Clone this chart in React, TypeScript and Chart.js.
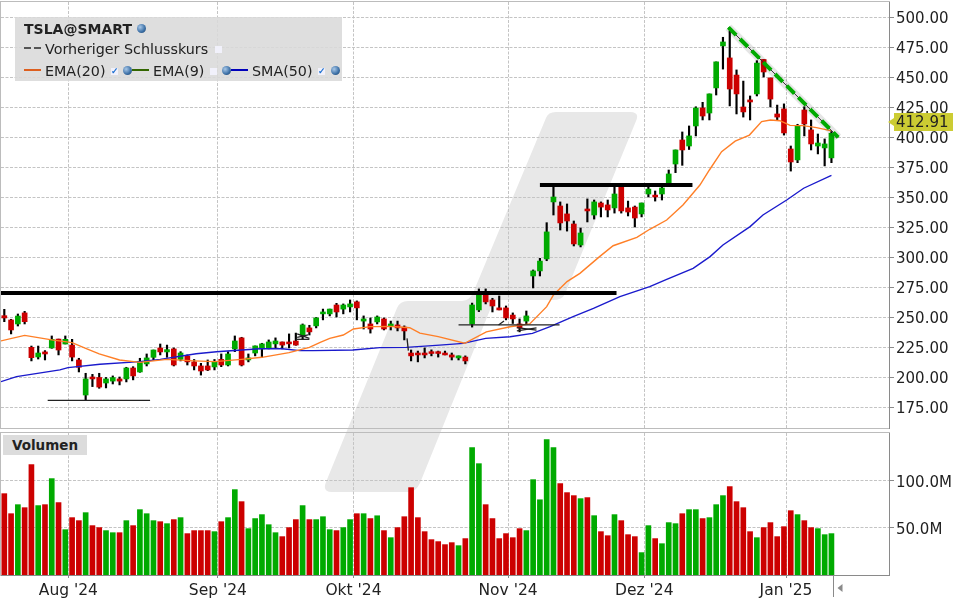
import { useEffect, useRef } from "react";
import { Chart, registerables } from "chart.js";

Chart.register(...registerables);

const FONT = '"DejaVu Sans", sans-serif';
const UP = "#00aa00";
const DOWN = "#cc0000";

const opens = [
  251.5, 247.9, 244.6, 253.8, 225.1, 217.1, 221.3, 224.6, 232.0, 227.9,
  227.0, 214.6, 185.4, 200.4, 200.0, 195.4, 197.0, 198.8, 198.8, 207.9,
  204.6, 211.3, 216.8, 224.6, 221.3, 223.8, 215.1, 218.0, 213.0, 209.6,
  209.6, 208.8, 215.1, 210.4, 223.8, 233.0, 214.6, 220.4, 223.8, 224.6,
  228.0, 229.6, 229.6, 230.4, 235.4, 241.3, 243.0, 253.0, 253.0, 260.4,
  257.0, 258.8, 263.0, 247.0, 244.6, 246.3, 248.8, 243.0, 243.8, 242.0,
  220.4, 220.4, 220.4, 221.5, 221.5, 220.4, 218.8, 216.3, 217.0, 244.6,
  256.3, 269.6, 264.6, 258.0, 258.0, 252.0, 244.6, 247.0, 284.6, 288.8,
  298.8, 346.3, 342.9, 336.3, 327.9, 310.4, 340.4, 335.4, 345.4, 343.8,
  341.3, 359.6, 341.3, 342.0, 336.3, 352.9, 352.0, 352.9, 361.3, 377.9,
  397.9, 392.9, 409.6, 424.6, 420.4, 441.3, 476.3, 466.3, 452.0, 425.4,
  431.3, 436.3, 465.0, 449.6, 419.6, 423.8, 390.4, 381.3, 422.9, 406.3,
  392.9, 391.3, 383.0,
];
const closes = [
  249.6, 239.6, 251.2, 246.5, 216.5, 220.4, 219.6, 231.8, 222.9, 231.8,
  217.0, 208.5, 198.8, 198.8, 192.0, 198.8, 199.9, 197.0, 207.9, 201.3,
  213.5, 216.3, 222.9, 221.3, 223.2, 210.4, 220.4, 213.0, 209.6, 205.4,
  206.3, 213.5, 210.4, 219.6, 230.4, 210.4, 216.3, 226.3, 228.0, 229.6,
  230.4, 227.0, 228.0, 227.0, 243.8, 238.0, 249.6, 254.6, 257.0, 254.6,
  260.4, 261.3, 258.0, 248.8, 240.4, 250.4, 240.4, 244.6, 241.3, 238.8,
  218.0, 218.8, 218.8, 220.0, 220.0, 218.8, 217.0, 218.0, 213.8, 260.4,
  269.6, 263.0, 259.6, 256.3, 249.6, 248.8, 241.3, 251.3, 288.8, 297.0,
  321.3, 350.4, 328.8, 330.4, 311.3, 320.4, 338.8, 346.3, 342.0, 339.6,
  352.9, 338.8, 337.9, 332.9, 345.4, 357.0, 350.4, 357.9, 369.6, 389.6,
  389.6, 401.3, 424.6, 417.9, 436.3, 463.0, 479.6, 440.4, 436.3, 421.3,
  429.6, 462.0, 454.6, 432.0, 417.0, 403.8, 379.6, 409.6, 411.3, 394.6,
  395.4, 394.6, 403.5,
];
const highs = [
  256.8, 248.5, 252.9, 255.1, 226.2, 226.2, 222.4, 234.6, 232.0, 234.6,
  231.8, 216.0, 203.5, 202.6, 203.5, 200.0, 201.3, 200.4, 208.5, 209.0,
  216.0, 219.6, 222.9, 227.9, 227.0, 224.6, 221.5, 218.8, 215.0, 211.8,
  214.6, 215.0, 219.6, 221.5, 234.6, 233.5, 219.6, 226.3, 228.5, 231.3,
  233.0, 229.6, 236.3, 237.0, 244.6, 243.5, 250.0, 257.0, 257.0, 261.8,
  261.3, 264.6, 263.8, 251.3, 249.6, 251.3, 249.6, 247.0, 247.0, 243.0,
  222.9, 222.0, 224.6, 223.0, 222.0, 222.0, 220.4, 218.0, 218.0, 262.0,
  273.8, 273.8, 266.0, 267.9, 259.6, 253.8, 248.8, 255.4, 289.6, 299.3,
  329.0, 358.5, 346.3, 344.6, 330.4, 324.6, 348.8, 347.9, 346.3, 347.9,
  360.4, 360.0, 347.0, 342.9, 345.4, 360.4, 355.4, 360.4, 372.9, 389.6,
  404.6, 409.6, 425.6, 429.3, 436.3, 463.0, 483.5, 489.0, 456.3, 447.0,
  434.6, 464.0, 465.0, 449.6, 427.0, 428.0, 392.9, 411.0, 425.6, 414.6,
  402.9, 398.8, 405.0,
];
const lows = [
  246.5, 236.3, 242.9, 244.6, 213.8, 215.4, 214.6, 224.3, 218.8, 227.9,
  213.8, 204.6, 181.3, 192.4, 191.0, 191.3, 194.6, 193.8, 196.3, 198.0,
  204.3, 209.6, 214.6, 218.8, 216.8, 209.6, 213.8, 210.4, 206.3, 202.0,
  205.7, 206.3, 209.0, 209.6, 221.5, 209.6, 213.0, 218.0, 216.8, 223.8,
  224.6, 223.8, 224.6, 226.8, 231.8, 235.4, 241.3, 248.0, 251.3, 250.4,
  253.0, 254.6, 248.0, 240.4, 237.0, 244.6, 239.6, 239.6, 238.8, 231.3,
  213.8, 213.0, 216.3, 218.0, 217.0, 218.8, 214.6, 214.6, 211.3, 242.0,
  254.9, 261.3, 254.6, 256.3, 248.0, 245.0, 238.0, 244.6, 274.6, 284.6,
  297.3, 335.4, 322.9, 322.0, 309.6, 308.8, 329.6, 332.0, 333.8, 333.8,
  337.0, 337.0, 334.6, 325.4, 333.8, 350.4, 347.0, 347.9, 359.0, 370.7,
  376.8, 390.0, 401.3, 414.6, 414.6, 435.4, 457.0, 426.3, 419.6, 417.0,
  414.6, 434.6, 450.4, 425.4, 414.6, 402.0, 372.0, 379.0, 401.3, 389.6,
  386.3, 376.3, 379.0,
];
// millions of shares
const volumes = [
  86.5, 65.2, 74.8, 71.6, 117.4, 73.8, 74.8, 102.5, 77.0, 48.2,
  61.0, 57.8, 66.3, 52.5, 50.4, 47.2, 45.0, 45.0, 57.8, 52.5,
  69.5, 65.2, 57.8, 56.7, 54.6, 58.9, 61.0, 44.0, 47.2, 47.2,
  47.2, 46.1, 56.7, 61.0, 90.8, 78.0, 49.3, 60.0, 64.2, 53.5,
  45.0, 40.8, 50.4, 58.9, 73.8, 58.9, 58.9, 62.0, 48.2, 47.2,
  50.4, 58.9, 65.2, 65.2, 60.0, 63.0, 47.2, 39.7, 50.4, 62.0,
  92.9, 61.0, 46.1, 37.6, 35.5, 32.3, 34.4, 31.2, 38.7, 135.5,
  118.4, 74.8, 60.0, 38.7, 44.0, 39.7, 49.3, 47.2, 101.4, 80.0,
  144.0, 135.5, 97.2, 87.6, 84.4, 81.2, 82.3, 63.1, 46.1, 41.8,
  64.2, 57.8, 42.9, 40.8, 23.8, 52.5, 38.7, 33.3, 55.7, 54.6,
  65.2, 69.5, 69.5, 60.0, 61.0, 74.8, 84.4, 94.0, 78.0, 71.6,
  46.1, 39.7, 50.4, 55.7, 40.8, 51.4, 68.4, 64.2, 57.8, 50.4,
  49.3, 42.9, 44.0,
];

// vertices of the average lines: bar index, price
const emaBars = [
  -0.5, 3, 7, 10, 12, 14, 17, 20, 24, 28, 31, 35, 38, 42, 45, 46.6, 48, 50, 51.5, 54, 57, 59.8, 61.3, 64,
  67.9, 71.1, 74.6, 77.5, 80, 81, 83, 84.9, 87.8, 89.8, 93.3, 95.2, 97.7, 100.1, 102.6, 104, 105.8, 107.8,
  109.9, 111.7, 113, 114.4, 115.9, 117.8, 119.8, 122,
];
const emaValues = [
  230.5, 235.1, 231.3, 229, 224.3, 219.6, 214.6, 212.6, 215.1, 213.8, 213.2, 215.1, 216.8, 220.7, 225.1, 229.3, 232.6, 235.4, 240.4, 242.4, 242.6, 241.5, 237, 234,
  228.5, 238, 242.3, 244.6, 259, 268.8, 279.9, 286.8, 300.7, 309.8, 316.8, 323.5, 331.2, 343.8, 360.4, 372.9, 388.2, 397,
  402, 413.2, 414.6, 414, 410.1, 409.9, 408.2, 405.5,
];
const smaBars = [
  -0.5, 1.8, 8.2, 9.4, 14.1, 20, 23, 28.3, 31.3, 37.7, 41, 43.6, 45.5, 51.4, 55.4, 59.3, 64.2, 67.7, 71, 74.6, 77.9,
  80.5, 83.9, 86.9, 90.8, 95.2, 97.7, 101.6, 104.1, 106, 110, 111.9, 115.4, 117.9, 122,
];
const smaValues = [
  196.5, 200.7, 206.3, 208.2, 211, 213.2, 215.1, 219.8, 221.5, 224, 224, 222.4, 222.4, 222.9, 224.9, 225.1, 227, 228.4, 232.6, 234, 236.8,
  242.3, 250.7, 257.6, 267.4, 275.7, 281.8, 291, 300.7, 310.4, 325.7, 335.4, 347.9, 357.7, 368.5,
];

// lines the chart's author drew by hand: [barFrom, priceFrom, barTo, priceTo]
const heavyLines = [
  [-0.5, 270.4, 90.3, 270.4],
  [79, 360.4, 101.5, 360.4],
];
const thinLines = [
  [6.4, 181, 21.5, 181],
  [67, 243.8, 81.9, 243.8],
  [43, 231.8, 45, 231.8],
  [43.2, 236.3, 45, 232.6],
  [43.2, 233.5, 44.8, 235.5],
  [75.6, 241.5, 78.5, 239.5],
  [75.6, 238.8, 78.5, 241.3],
  [72.9, 243.8, 73.7, 247],
  [59.4, 232.6, 59.6, 222.4],
];
const trendLine = [106.8, 491.8, 123, 400.1];

const priceTicks = [175, 200, 225, 250, 275, 300, 325, 350, 375, 400, 425, 450, 475, 500];
const volumeTicks = [50, 100];
const monthTicks = [9.45, 31.5, 51.5, 74.3, 94.4, 115.3];
const monthLabels = ["Aug '24", "Sep '24", "Okt '24", "Nov '24", "Dez '24", "Jan '25"];
const lastPrice = 412.91;

const barIndex = opens.map((_, i) => i);
const barColors = opens.map((o, i) => (closes[i] >= o ? UP : DOWN));

const xRange = { min: -0.487, max: 130.49, offset: false };
const gridColor = "#c4c4c4";
const gridDash = [3, 1.5];
const axisColor = "#8a8a8a";

const segment = (s: number[]) => [
  { x: s[0], y: s[1] },
  { x: s[2], y: s[3] },
];

const lineSet = (data: { x: number; y: number }[], color: string, width: number, order: number, extra = {}) => ({
  type: "line" as const,
  data,
  borderColor: color,
  borderWidth: width,
  pointRadius: 0,
  tension: 0,
  order,
  ...extra,
});

const noLabelPadding = (s: any) => {
  s.paddingTop = 0;
  s.paddingBottom = 0;
  s.paddingLeft = 0;
  s.paddingRight = 0;
};

const panelFrame = {
  id: "panelFrame",
  beforeDraw(chart: any) {
    const { ctx, chartArea: a } = chart;
    ctx.save();
    ctx.strokeStyle = "#bcbcbc";
    ctx.lineWidth = 1;
    ctx.strokeRect(a.left - 0.5, a.top - 0.5, a.right - a.left + 1, a.bottom - a.top + 1);
    ctx.restore();
  },
};

const priceTag = {
  id: "priceTag",
  afterDraw(chart: any) {
    const { ctx } = chart;
    const y = chart.scales.y.getPixelForValue(lastPrice);
    const x = chart.chartArea.right;
    ctx.save();
    ctx.fillStyle = "#cccc33";
    ctx.beginPath();
    ctx.moveTo(x - 1, y);
    ctx.lineTo(x + 5, y - 4);
    ctx.lineTo(x + 5, y - 9);
    ctx.lineTo(x + 64, y - 9);
    ctx.lineTo(x + 64, y + 9);
    ctx.lineTo(x + 5, y + 9);
    ctx.lineTo(x + 5, y + 4);
    ctx.closePath();
    ctx.fill();
    ctx.fillStyle = "#222";
    ctx.font = `15px ${FONT}`;
    ctx.textBaseline = "middle";
    ctx.fillText(lastPrice.toFixed(2), x + 7, y + 1);
    ctx.restore();
  },
};

const scrollMark = {
  id: "scrollMark",
  afterDraw(chart: any) {
    const { ctx, chartArea: a } = chart;
    const x = Math.round(chart.scales.x.getPixelForValue(barIndex.length - 0.7)) + 0.5;
    ctx.save();
    ctx.strokeStyle = axisColor;
    ctx.beginPath();
    ctx.moveTo(x, a.bottom);
    ctx.lineTo(x, a.bottom + 22);
    ctx.stroke();
    ctx.fillStyle = axisColor;
    ctx.beginPath();
    ctx.moveTo(x + 4, a.bottom + 13);
    ctx.lineTo(x + 9, a.bottom + 9);
    ctx.lineTo(x + 9, a.bottom + 17);
    ctx.closePath();
    ctx.fill();
    ctx.restore();
  },
};

const Globe = ({ left, top }: { left: number; top: number }) => (
  <span
    style={{
      position: "absolute",
      left,
      top,
      width: 9,
      height: 9,
      borderRadius: "50%",
      background: "radial-gradient(circle at 35% 35%, #a8c8e8, #3a6ea5 60%, #23415f)",
    }}
  />
);

const Check = ({ left, top, on }: { left: number; top: number; on?: boolean }) => (
  <span
    style={{
      position: "absolute",
      left,
      top,
      width: 7,
      height: 7,
      background: "#f1f1fb",
      color: "#1c6fd0",
      fontSize: 9,
      lineHeight: "7px",
      textAlign: "center",
      fontWeight: 700,
    }}
  >
    {on ? "✓" : ""}
  </span>
);

const Swatch = ({ left, top, color, dashed }: { left: number; top: number; color: string; dashed?: boolean }) => (
  <span
    style={{
      position: "absolute",
      left,
      top,
      width: 17,
      height: 2,
      background: dashed ? `linear-gradient(90deg, ${color} 44%, transparent 44%, transparent 56%, ${color} 56%)` : color,
    }}
  />
);

const Label = ({ left, top, bold, size = 14.3, children }: { left: number; top: number; bold?: boolean; size?: number; children: string }) => (
  <span
    style={{
      position: "absolute",
      left,
      top,
      lineHeight: "18px",
      fontFamily: FONT,
      fontSize: size,
      fontWeight: bold ? 700 : 400,
      color: "#222",
      whiteSpace: "nowrap",
    }}
  >
    {children}
  </span>
);

export default function App() {
  const priceRef = useRef<HTMLCanvasElement | null>(null);
  const volumeRef = useRef<HTMLCanvasElement | null>(null);

  useEffect(() => {
    if (!priceRef.current || !volumeRef.current) return;
    Chart.defaults.font.family = FONT;

    const priceChart = new Chart(priceRef.current, {
      type: "bar",
      data: {
        datasets: [
          ...heavyLines.map((s) => lineSet(segment(s), "#000", 4, 1)),
          ...thinLines.map((s) => lineSet(segment(s), "#222", 1.3, 1)),
          lineSet(segment(trendLine), "rgba(0,0,0,0.1)", 8, 2),
          lineSet(segment(trendLine), "#333", 1, 1),
          lineSet(segment(trendLine), UP, 4, 0, { borderDash: [11, 5.5] }),
          lineSet(emaBars.map((x, i) => ({ x, y: emaValues[i] })), "#ff7f27", 1.4, 3),
          lineSet(smaBars.map((x, i) => ({ x, y: smaValues[i] })), "#1a1acc", 1.4, 4),
          {
            data: barIndex.map((x) => ({ x, y: [opens[x], closes[x]] })),
            backgroundColor: barColors,
            barThickness: 5,
            grouped: false,
            order: 5,
          },
          {
            data: barIndex.map((x) => ({ x, y: [lows[x], highs[x]] })),
            backgroundColor: "#000",
            barThickness: 1.5,
            grouped: false,
            order: 6,
          },
        ] as any,
      },
      options: {
        responsive: false,
        animation: false,
        devicePixelRatio: 1,
        events: [],
        layout: { padding: { left: 1, top: 2, bottom: 2, right: 0 } },
        plugins: { legend: { display: false }, tooltip: { enabled: false } },
        scales: {
          x: {
            type: "linear",
            ...xRange,
            ticks: { display: false },
            afterBuildTicks: (s: any) => {
              s.ticks = monthTicks.map((value) => ({ value }));
            },
            afterFit: (s: any) => {
              s.height = 0;
              noLabelPadding(s);
            },
            grid: { color: gridColor, drawTicks: false, offset: false },
            border: { display: false, dash: gridDash },
          },
          y: {
            position: "right",
            min: 157.9,
            max: 512.9,
            afterBuildTicks: (s: any) => {
              s.ticks = priceTicks.map((value) => ({ value }));
            },
            afterFit: (s: any) => {
              s.width = 71;
              noLabelPadding(s);
            },
            ticks: {
              color: "#222",
              padding: 2,
              labelOffset: 2,
              font: { size: 15 },
              callback: (v: any) => Number(v).toFixed(2),
            },
            grid: { color: gridColor, tickColor: axisColor, tickLength: 5 },
            border: { color: axisColor, dash: gridDash },
          },
        },
      },
      plugins: [panelFrame, priceTag],
    });

    const volumeChart = new Chart(volumeRef.current, {
      type: "bar",
      data: {
        datasets: [
          {
            data: barIndex.map((x) => ({ x, y: volumes[x] })),
            backgroundColor: barColors,
            barThickness: 5,
          },
        ] as any,
      },
      options: {
        responsive: false,
        animation: false,
        devicePixelRatio: 1,
        events: [],
        layout: { padding: { left: 1, top: 3, bottom: 0, right: 0 } },
        plugins: { legend: { display: false }, tooltip: { enabled: false } },
        scales: {
          x: {
            type: "linear",
            ...xRange,
            afterBuildTicks: (s: any) => {
              s.ticks = monthTicks.map((value) => ({ value }));
            },
            afterFit: (s: any) => {
              s.height = 25;
              noLabelPadding(s);
            },
            ticks: {
              color: "#222",
              padding: 4,
              autoSkip: false,
              maxRotation: 0,
              font: { size: 15.5 },
              callback: (_v: any, i: number) => monthLabels[i],
            },
            grid: { color: gridColor, tickColor: axisColor, tickLength: 3, offset: false },
            border: { color: axisColor, dash: gridDash },
          },
          y: {
            position: "right",
            min: 0,
            max: 151,
            afterBuildTicks: (s: any) => {
              s.ticks = volumeTicks.map((value) => ({ value }));
            },
            afterFit: (s: any) => {
              s.width = 71;
              noLabelPadding(s);
            },
            ticks: {
              color: "#222",
              padding: 2,
              labelOffset: 2,
              font: { size: 15 },
              callback: (v: any) => `${Number(v).toFixed(1)}M`,
            },
            grid: { color: gridColor, tickColor: axisColor, tickLength: 5 },
            border: { color: axisColor, dash: gridDash },
          },
        },
      },
      plugins: [panelFrame, scrollMark],
    });

    return () => {
      priceChart.destroy();
      volumeChart.destroy();
    };
  }, []);

  return (
    <div style={{ position: "absolute", left: 0, top: 0, width: 960, height: 600, overflow: "hidden", background: "#fff" }}>
      {/* watermark sits behind both panels */}
      <svg width={960} height={600} style={{ position: "absolute", left: 0, top: 0 }}>
        <path
          fill="#e8e8e8"
          d="M556 112 L630 112 Q640 112 636 121 L565 294 Q562 300 553 300 L494 300 L420 483 Q416 492 408 492 L332 492 Q322 492 326 482 L397 308 Q400 301 408 301 L462 301 Q470 300 473 293 L546 118 Q548 112 556 112 Z"
        />
      </svg>
      <canvas ref={priceRef} width={960} height={430} style={{ position: "absolute", left: 0, top: 0 }} />
      <canvas ref={volumeRef} width={960} height={170} style={{ position: "absolute", left: 0, top: 430 }} />

      <div style={{ position: "absolute", left: 15, top: 17, width: 327, height: 64, background: "rgba(218,218,218,0.88)" }} />
      <Label left={24} top={20} bold size={14}>
        TSLA@SMART
      </Label>
      <Globe left={137} top={24} />
      <Swatch left={24} top={47} color="#555" dashed />
      <Label left={45} top={40}>
        Vorheriger Schlusskurs
      </Label>
      <Check left={215} top={46} />
      <Swatch left={24} top={69} color="#dd5f1f" />
      <Label left={45} top={62}>
        EMA(20)
      </Label>
      <Check left={111} top={68} on />
      <Globe left={123} top={66} />
      <Swatch left={132} top={69} color="#336600" />
      <Label left={153} top={62}>
        EMA(9)
      </Label>
      <Check left={210} top={68} />
      <Globe left={222} top={66} />
      <Swatch left={231} top={69} color="#0000bb" />
      <Label left={252} top={62}>
        SMA(50)
      </Label>
      <Check left={318} top={68} on />
      <Globe left={331} top={66} />

      <div style={{ position: "absolute", left: 3, top: 435, width: 84, height: 20, background: "#dcdcdc" }} />
      <Label left={12} top={436} bold size={13.5}>
        Volumen
      </Label>
    </div>
  );
}
